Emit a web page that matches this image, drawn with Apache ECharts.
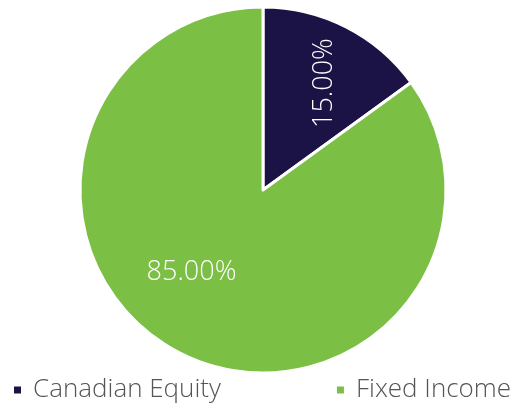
<!DOCTYPE html>
<html>
<head>
<meta charset="utf-8">
<script src="https://cdn.jsdelivr.net/npm/echarts@6/dist/echarts.min.js"></script>
<style>
  html, body { margin: 0; padding: 0; background: #fff; }
  #main { width: 512px; height: 406px; }
</style>
</head>
<body>
<div id="main"></div>
<script>
var categories = ['Canadian Equity', 'Fixed Income'];
var values = [15, 85];
var colors = ['#1b1345', '#7bbf44'];

var myChart = echarts.init(document.getElementById('main'));

var pieData = categories.map(function (name, i) {
    return { name: name, value: values[i], itemStyle: { color: colors[i] } };
});

// transparent copies of the pie, only used to place the labels
function labelLayer(idx, outer, startAngle, rotate) {
    return {
        type: 'pie',
        silent: true,
        center: [263, 190],
        radius: [0, outer],
        startAngle: startAngle,
        z: 5,
        itemStyle: { color: 'rgba(0,0,0,0)', borderWidth: 0 },
        emphasis: { disabled: true },
        labelLine: { show: false },
        data: categories.map(function (name, i) {
            return {
                name: name,
                value: values[i],
                label: {
                    show: i === idx,
                    position: 'inside',
                    rotate: rotate,
                    color: '#ffffff',
                    fontFamily: 'Open Sans',
                    fontWeight: 300,
                    fontSize: 27,
                    formatter: function (p) { return p.value.toFixed(2) + '%'; }
                }
            };
        })
    };
}

var option = {
    animation: false,
    legend: {
        orient: 'horizontal',
        bottom: 3,
        left: 12,
        width: 600,
        padding: 0,
        itemWidth: 9,
        itemHeight: 9,
        itemGap: 114,
        icon: 'rect',
        textStyle: {
            color: '#555555',
            fontFamily: 'Open Sans',
            fontWeight: 300,
            fontSize: 26,
            padding: [0, 0, 0, 6]
        },
        data: categories
    },
    series: [
        {
            type: 'pie',
            center: [263, 190],
            radius: [0, 183],
            startAngle: 90,
            itemStyle: { borderColor: '#ffffff', borderWidth: 3 },
            label: { show: false },
            labelLine: { show: false },
            emphasis: { disabled: true },
            data: pieData
        },
        labelLayer(0, 241, 87, 90),
        labelLayer(1, 212, 76, 0)
    ]
};
myChart.setOption(option);
</script>
</body>
</html>
